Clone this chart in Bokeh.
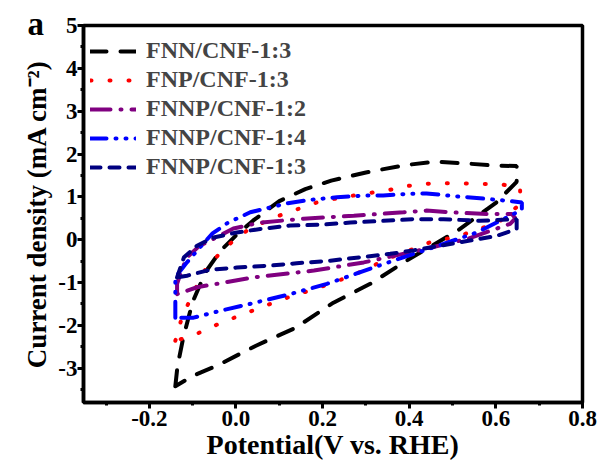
from bokeh.plotting import figure
from bokeh.models import FixedTicker, Legend, LegendItem, Label, CustomJSTickFormatter, Range1d
from bokeh.embed import file_html
from bokeh.resources import INLINE

# ---- data ----
fnn_x = [-0.14, -0.135, -0.122, -0.10, -0.07, -0.035, 0.0, 0.04, 0.1, 0.16, 0.22, 0.3, 0.39, 0.46, 0.53, 0.6, 0.648, 0.648, 0.6, 0.51, 0.40, 0.31, 0.225, 0.137, 0.045, -0.044, -0.10, -0.14]
fnn_y = [-3.42, -2.95, -2.3, -1.45, -0.75, -0.25, 0.1, 0.45, 0.9, 1.18, 1.38, 1.57, 1.74, 1.82, 1.78, 1.73, 1.72, 1.35, 0.86, 0.2, -0.45, -1.03, -1.47, -2.06, -2.48, -2.94, -3.18, -3.42]

fnp_x = [-0.14, -0.125, -0.10, -0.07, -0.025, 0.025, 0.08, 0.133, 0.187, 0.24, 0.295, 0.348, 0.40, 0.456, 0.506, 0.564, 0.61, 0.656, 0.656, 0.61, 0.55, 0.5, 0.448, 0.4, 0.348, 0.295, 0.236, 0.183, 0.13, 0.068, 0.006, -0.048, -0.10, -0.14]
fnp_y = [-2.36, -1.82, -1.27, -0.68, -0.18, 0.21, 0.49, 0.68, 0.87, 0.98, 1.07, 1.15, 1.26, 1.32, 1.32, 1.30, 1.30, 1.2, 0.83, 0.44, 0.2, 0.05, -0.06, -0.25, -0.45, -0.72, -0.96, -1.15, -1.31, -1.54, -1.78, -2.0, -2.24, -2.36]

fnnp12_x = [-0.136, -0.136, -0.125, -0.113, -0.085, -0.052, -0.006, 0.056, 0.156, 0.272, 0.387, 0.44, 0.495, 0.579, 0.637, 0.645, 0.633, 0.533, 0.418, 0.295, 0.18, 0.04, -0.09, -0.136]
fnnp12_y = [-1.27, -1.03, -0.7, -0.41, -0.15, 0.02, 0.26, 0.40, 0.49, 0.56, 0.64, 0.68, 0.64, 0.60, 0.60, 0.5, 0.37, 0.015, -0.26, -0.53, -0.72, -0.88, -1.11, -1.27]

fnnp14_x = [-0.14, -0.14, -0.14, -0.115, -0.09, -0.055, -0.018, 0.033, 0.118, 0.171, 0.233, 0.295, 0.34, 0.395, 0.44, 0.5, 0.571, 0.625, 0.66, 0.66, 0.625, 0.556, 0.479, 0.41, 0.34, 0.27, 0.21, 0.125, 0.048, -0.036, -0.098, -0.14]
fnnp14_y = [-1.82, -1.3, -0.88, -0.55, -0.26, 0.14, 0.40, 0.64, 0.85, 0.93, 0.99, 1.03, 1.03, 1.07, 1.08, 1.02, 0.96, 0.91, 0.87, 0.7, 0.52, 0.17, -0.1, -0.33, -0.57, -0.82, -1.03, -1.27, -1.46, -1.66, -1.82, -1.82]

fnnp13_x = [-0.136, -0.12, -0.09, -0.052, 0.002, 0.056, 0.125, 0.195, 0.264, 0.34, 0.41, 0.479, 0.564, 0.648, 0.648, 0.602, 0.54, 0.471, 0.41, 0.356, 0.287, 0.218, 0.14, 0.071, 0.002, -0.059, -0.113, -0.136]
fnnp13_y = [-0.88, -0.41, -0.14, 0.05, 0.17, 0.25, 0.33, 0.35, 0.40, 0.44, 0.48, 0.48, 0.44, 0.48, 0.25, 0.09, -0.02, -0.14, -0.25, -0.33, -0.41, -0.49, -0.55, -0.61, -0.65, -0.70, -0.84, -0.88]

labels = ["FNN/CNF-1:3", "FNP/CNF-1:3", "FNNP/CNF-1:2", "FNNP/CNF-1:4", "FNNP/CNF-1:3"]
x_major = [-0.2, 0.0, 0.2, 0.4, 0.6, 0.8]
x_minor = [-0.3, -0.1, 0.1, 0.3, 0.5, 0.7]
y_major = [-3, -2, -1, 0, 1, 2, 3, 4, 5]
y_minor = [-3.5, -2.5, -1.5, -0.5, 0.5, 1.5, 2.5, 3.5, 4.5]
panel_letter = "a"

series = [(fnn_x, fnn_y), (fnp_x, fnp_y), (fnnp12_x, fnnp12_y), (fnnp14_x, fnnp14_y), (fnnp13_x, fnnp13_y)]
colors = ["#000000", "#ff0000", "#800080", "#0000ff", "#000080"]
dashes = ["16 14", "1 18", "20 10 1 10", "16 9 1 9 1 9", "10 9"]

FONT = "Liberation Serif"

p = figure(width=599, height=466, output_backend="svg", toolbar_location=None,
           x_range=Range1d(-0.352, 0.8), y_range=Range1d(-3.8, 5.0),
           min_border_left=83, min_border_right=17, min_border_top=25, min_border_bottom=64)
p.grid.visible = False
p.background_fill_color = "white"
p.outline_line_color = "black"
p.outline_line_width = 3.5

items = []
for (xs, ys), c, d, lab in zip(series, colors, dashes, labels):
    r = p.line(xs, ys, line_color=c, line_width=4, line_dash=d, line_cap="round")
    items.append(LegendItem(label=lab, renderers=[r]))

for ax in (p.xaxis[0], p.yaxis[0]):
    ax.axis_line_width = 3.5
    ax.major_tick_line_width = 3
    ax.minor_tick_line_width = 3
    ax.major_tick_out = 6
    ax.major_tick_in = 0
    ax.minor_tick_out = 3
    ax.minor_tick_in = 0
    ax.major_label_text_font = FONT
    ax.major_label_text_font_style = "bold"
    ax.major_label_text_font_size = "23px"
    ax.major_label_text_color = "black"
    ax.axis_label_text_font = FONT
    ax.axis_label_text_font_style = "bold"
    ax.axis_label_text_color = "black"

p.xaxis.ticker = FixedTicker(ticks=x_major, minor_ticks=x_minor)
p.yaxis.ticker = FixedTicker(ticks=y_major, minor_ticks=y_minor)
p.xaxis.formatter = CustomJSTickFormatter(code="return tick.toFixed(1);")
p.yaxis.formatter = CustomJSTickFormatter(code="return tick.toFixed(0);")
p.xaxis.major_label_standoff = 2
p.yaxis.major_label_standoff = 0
p.xaxis.axis_label = "Potential(V vs. RHE)"
p.xaxis.axis_label_text_font_size = "28px"
p.xaxis.axis_label_standoff = 0
p.yaxis.axis_label = "Current density (mA cm\u207b\u00b2)"
p.yaxis.axis_label_text_font_size = "27px"
p.yaxis.axis_label_standoff = 3

legend = Legend(items=items, location=(7, 222), border_line_alpha=0, background_fill_alpha=0,
                padding=0, margin=0, spacing=2, glyph_width=46, glyph_height=22, label_height=22,
                label_standoff=10, label_text_font=FONT, label_text_font_style="bold",
                label_text_font_size="24px")
p.add_layout(legend, "center")

# panel letter, placed in the left border panel (center annotations are clipped to the frame)
p.add_layout(Label(x=25, y=379, x_units="screen", y_units="screen", text=panel_letter,
                   text_font=FONT, text_font_style="bold", text_font_size="33px",
                   text_color="black", text_align="left", text_baseline="alphabetic"), "left")

open("out.html", "w").write(file_html(p, INLINE))
